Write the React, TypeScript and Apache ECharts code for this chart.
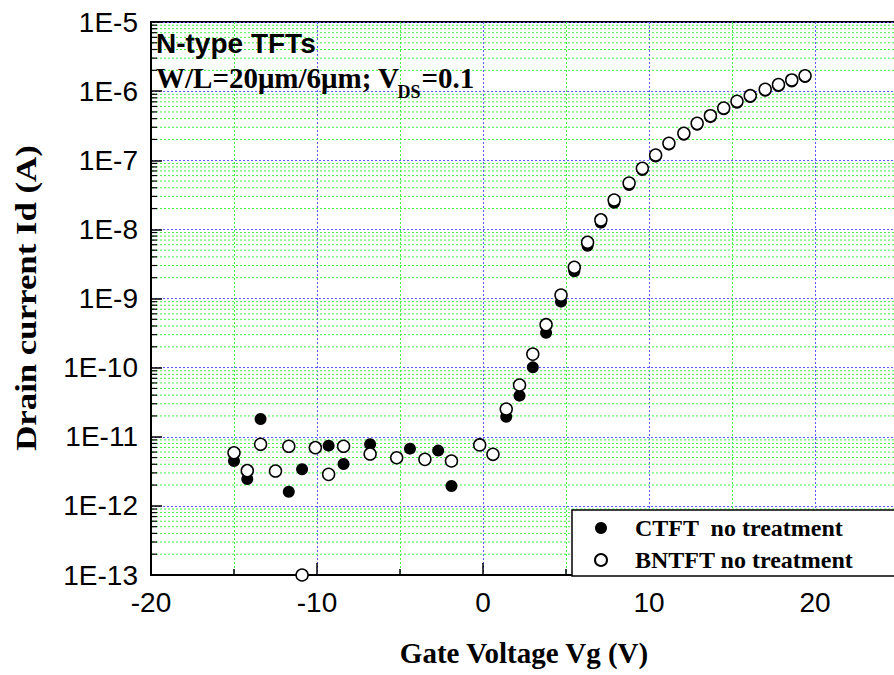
import { useEffect, useRef } from "react";
import * as echarts from "echarts";

// Gate voltage (V) and drain current (A) for each device
const ctftVg = [-15.0, -14.2, -13.4, -11.7, -10.9, -9.3, -8.4, -6.8, -4.4, -2.7, -1.9, -0.2, 1.4, 2.2, 3.0, 3.8, 4.7, 5.5, 6.3, 7.1, 7.9, 8.8, 9.6, 10.4, 11.2, 12.1, 12.9, 13.7, 14.5, 15.3, 16.1, 17.0, 17.8, 18.6, 19.4];
const ctftId = [4.46e-12, 2.45e-12, 1.81e-11, 1.6e-12, 3.38e-12, 7.43e-12, 4.03e-12, 7.78e-12, 6.73e-12, 6.3e-12, 1.94e-12, 7.85e-12, 1.95e-11, 3.93e-11, 1.01e-10, 3.2e-10, 9.0e-10, 2.47e-9, 5.8e-9, 1.25e-8, 2.43e-8, 4.38e-8, 7.22e-8, 1.13e-7, 1.68e-7, 2.33e-7, 3.25e-7, 4.2e-7, 5.45e-7, 6.8e-7, 8.2e-7, 1.01e-6, 1.18e-6, 1.38e-6, 1.6e-6];

const bntftVg = [-15.0, -14.2, -13.4, -12.5, -11.7, -10.9, -10.1, -9.3, -8.4, -6.8, -5.2, -3.5, -1.9, -0.2, 0.6, 1.4, 2.2, 3.0, 3.8, 4.7, 5.5, 6.3, 7.1, 7.9, 8.8, 9.6, 10.4, 11.2, 12.1, 12.9, 13.7, 14.5, 15.3, 16.1, 17.0, 17.8, 18.6, 19.4];
const bntftId = [5.87e-12, 3.23e-12, 7.78e-12, 3.19e-12, 7.28e-12, 1e-13, 6.95e-12, 2.86e-12, 7.28e-12, 5.62e-12, 4.97e-12, 4.71e-12, 4.46e-12, 7.6e-12, 5.57e-12, 2.52e-11, 5.61e-11, 1.57e-10, 4.18e-10, 1.12e-9, 2.83e-9, 6.5e-9, 1.37e-8, 2.66e-8, 4.69e-8, 7.64e-8, 1.19e-7, 1.76e-7, 2.45e-7, 3.42e-7, 4.41e-7, 5.7e-7, 7.13e-7, 8.59e-7, 1.06e-6, 1.24e-6, 1.45e-6, 1.67e-6];

const seriesNames = ["CTFT  no treatment", "BNTFT no treatment"];

// Axis ranges
const xMin = -20;
const xMax = 30;
const xInterval = 10;
const yMin = 1e-13;
const yMax = 1e-5;
const yDecades = [1e-13, 1e-12, 1e-11, 1e-10, 1e-9, 1e-8, 1e-7, 1e-6];
const yMinorMultipliers = [2, 3, 4, 5, 6, 7, 8, 9];

const SANS = '"Liberation Sans", Arial, Helvetica, sans-serif';
const SERIF = '"Liberation Serif", "Times New Roman", Times, serif';
const BLUE = "#5a5aff";
const GREEN = "#44ee44";

function measure(text: string, font: string): number {
  const ctx = document.createElement("canvas").getContext("2d");
  if (!ctx) return text.length * 14;
  ctx.font = font;
  return ctx.measureText(text).width;
}

export default function App() {
  const ref = useRef<HTMLDivElement>(null);

  useEffect(() => {
    if (!ref.current) return;
    const chart = echarts.init(ref.current, undefined, { renderer: "svg" });

    const minorValues: number[] = [];
    yDecades.forEach((d) => yMinorMultipliers.forEach((m) => minorValues.push(m * d)));

    const mainFontSize = 29;
    const subFontSize = 18;
    const t1 = "W/L=20μm/6μm; V";
    const t2 = "DS";
    const t3 = "=0.1";
    const w1 = measure(t1, `bold ${mainFontSize}px "Liberation Serif"`);
    const w2 = measure(t2, `bold ${subFontSize}px "Liberation Serif"`);
    const annX = 156;

    const serifBold = (size: number) => ({ fontSize: size, fontWeight: "bold", fontFamily: SERIF, fill: "#000" });

    chart.setOption({
      animation: false,
      backgroundColor: "#fff",
      grid: {
        left: 151,
        top: 22,
        width: 830,
        height: 553,
        show: true,
        borderColor: "#000",
        borderWidth: 2,
        backgroundColor: "transparent",
      },
      xAxis: {
        type: "value",
        min: xMin,
        max: xMax,
        interval: xInterval,
        axisLine: { show: true, onZero: false, lineStyle: { color: "#000", width: 2 } },
        axisTick: { show: true, inside: true, length: 12, lineStyle: { color: "#000", width: 1.5 } },
        minorTick: { show: true, splitNumber: 2, length: 6, lineStyle: { color: "#000", width: 1.5 } },
        axisLabel: {
          color: "#000",
          fontSize: 28,
          fontFamily: SANS,
          margin: 13,
          formatter: (v: number) => (v <= 20 ? String(v) : ""),
        },
        splitLine: { show: true, lineStyle: { color: BLUE, type: [2, 2], width: 1 } },
        minorSplitLine: { show: true, lineStyle: { color: GREEN, type: [2, 2], width: 1 } },
      },
      yAxis: {
        type: "log",
        logBase: 10,
        min: yMin,
        max: yMax,
        splitNumber: 8,
        axisLine: { show: true, onZero: false, lineStyle: { color: "#000", width: 2 } },
        axisTick: { show: true, inside: true, length: 11, lineStyle: { color: "#000", width: 1.5 } },
        minorTick: { show: false },
        axisLabel: {
          color: "#000",
          fontSize: 28,
          fontFamily: SANS,
          margin: 13,
          formatter: (v: number) => "1E" + Math.round(Math.log10(v)),
        },
        splitLine: { show: true, lineStyle: { color: BLUE, type: [2, 2], width: 1 } },
      },
      legend: {
        data: seriesNames,
        orient: "vertical",
        left: 594,
        top: 516,
        itemWidth: 58,
        itemHeight: 12,
        itemGap: 8,
        padding: 0,
        z: 10,
        icon: "circle",
        selectedMode: false,
        textStyle: { color: "#000", fontSize: 24, fontWeight: "bold", fontFamily: SERIF, lineHeight: 24 },
      },
      graphic: [
        {
          type: "rect",
          z: 5,
          shape: { x: 572, y: 510, width: 340, height: 66 },
          style: { fill: "#fff", stroke: "#000", lineWidth: 1.5 },
        },
        {
          type: "text",
          x: annX,
          y: 43,
          z: 6,
          style: {
            text: "N-type TFTs",
            fontSize: 28,
            fontWeight: "bold",
            fontFamily: SANS,
            fill: "#000",
            textVerticalAlign: "middle",
          },
        },
        {
          type: "text",
          x: annX,
          y: 78,
          z: 6,
          style: { text: t1, ...serifBold(mainFontSize), textVerticalAlign: "middle" },
        },
        {
          type: "text",
          x: annX + w1 - 2,
          y: 92,
          z: 6,
          style: { text: t2, ...serifBold(subFontSize), textVerticalAlign: "middle" },
        },
        {
          type: "text",
          x: annX + w1 + w2 - 1,
          y: 78,
          z: 6,
          style: { text: t3, ...serifBold(mainFontSize), textVerticalAlign: "middle" },
        },
        {
          type: "text",
          x: 524,
          y: 653,
          z: 6,
          style: {
            text: "Gate Voltage Vg (V)",
            ...serifBold(29),
            textAlign: "center",
            textVerticalAlign: "middle",
          },
        },
        {
          type: "text",
          x: 26,
          y: 298,
          rotation: Math.PI / 2,
          scaleX: 1.2,
          z: 6,
          style: {
            text: "Drain current Id (A)",
            ...serifBold(29),
            textAlign: "center",
            textVerticalAlign: "middle",
          },
        },
      ],
      series: [
        {
          type: "custom",
          name: "minor grid",
          silent: true,
          z: 1,
          clip: true,
          data: minorValues.map((v) => [xMin, v]),
          encode: { x: 0, y: 1 },
          renderItem: (_params: any, api: any) => {
            const v = api.value(1);
            const p1 = api.coord([xMin, v]);
            const p2 = api.coord([xMax, v]);
            return {
              type: "group",
              children: [
                {
                  type: "line",
                  shape: { x1: p1[0] + 1, y1: p1[1], x2: p2[0], y2: p2[1] },
                  style: { stroke: GREEN, lineWidth: 1, lineDash: [2, 2] },
                },
                {
                  type: "line",
                  shape: { x1: p1[0], y1: p1[1], x2: p1[0] + 6, y2: p1[1] },
                  style: { stroke: "#000", lineWidth: 1.2 },
                },
              ],
            };
          },
        },
        {
          type: "scatter",
          name: seriesNames[0],
          data: ctftVg.map((v, i) => [v, ctftId[i]]),
          symbol: "circle",
          symbolSize: 12,
          itemStyle: { color: "#000", opacity: 1 },
          z: 3,
        },
        {
          type: "scatter",
          name: seriesNames[1],
          data: bntftVg.map((v, i) => [v, bntftId[i]]),
          symbol: "circle",
          symbolSize: 12,
          itemStyle: { color: "#fff", borderColor: "#000", borderWidth: 1.5, opacity: 1 },
          z: 4,
        },
      ],
    });

    return () => chart.dispose();
  }, []);

  return (
    <div style={{ position: "fixed", left: 0, top: 0, width: 894, height: 675, overflow: "hidden", background: "#fff" }}>
      <div ref={ref} style={{ width: 1000, height: 675 }} />
    </div>
  );
}
